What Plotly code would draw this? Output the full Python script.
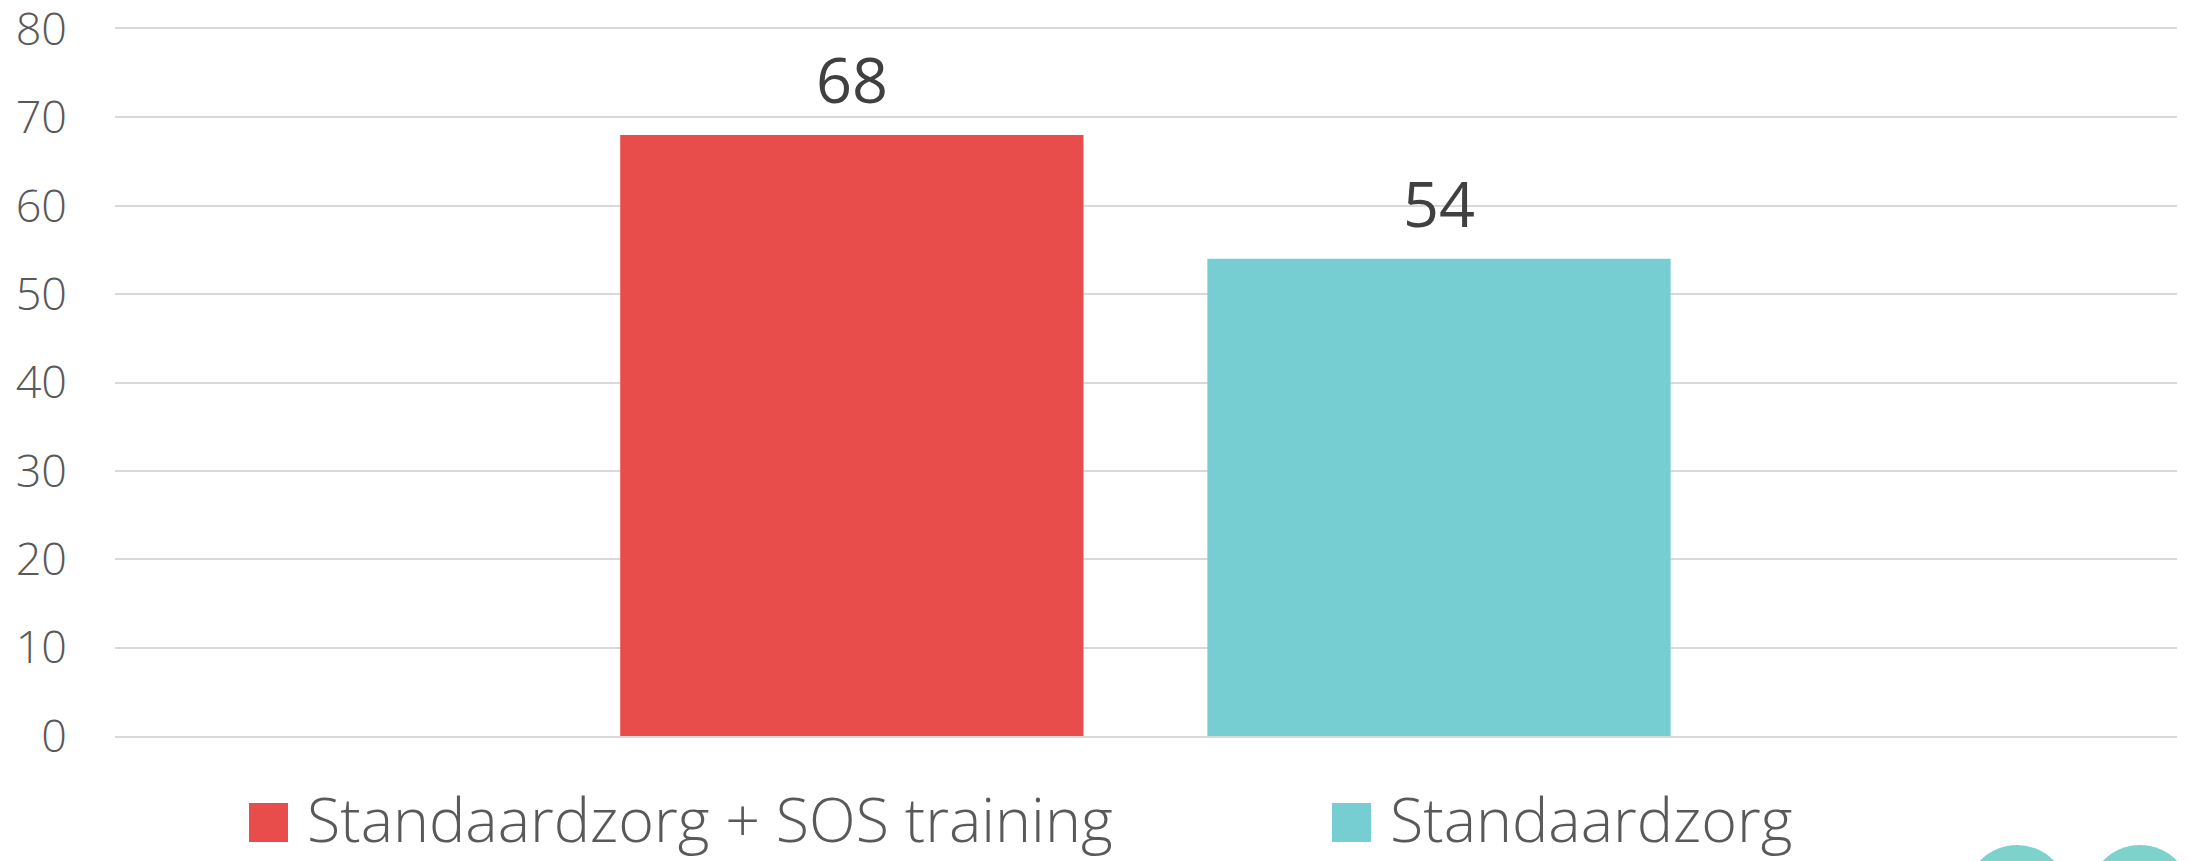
import plotly.graph_objects as go

# ---- data ----
series_names = ["Standaardzorg + SOS training", "Standaardzorg"]
values = [68, 54]
y_tick_values = [0, 10, 20, 30, 40, 50, 60, 70, 80]

# ---- style ----
colors = ["#E84C4B", "#76CDD2"]
W, H = 2188, 861
L, R, T, B = 115, 11, 29, 125
PW, PH = W - L - R, H - T - B


def pxx(x):
    return (x - L) / PW


def pyy(y):
    return (H - B - y) / PH


FONT = "'Open Sans', Lato, sans-serif"

fig = go.Figure()
for name, val, col in zip(series_names, values, colors):
    fig.add_trace(go.Bar(x=[name], y=[val], name=name, marker_color=col,
                         marker_line_width=0, showlegend=False, hoverinfo="skip"))

annotations = []
for name, val in zip(series_names, values):
    annotations.append(dict(x=name, y=val, xref="x", yref="y", text=str(val),
                            showarrow=False, yanchor="bottom", yshift=12,
                            font=dict(family=FONT, size=63, color="#404040")))

# custom legend (large squares)
legend_sq_x = [249, 1332]
shapes = []
for name, col, sx in zip(series_names, colors, legend_sq_x):
    shapes.append(dict(type="rect", xref="paper", yref="paper",
                       x0=pxx(sx), x1=pxx(sx + 39), y0=pyy(842), y1=pyy(803),
                       fillcolor=col, line_width=0))
    annotations.append(dict(x=pxx(sx + 56), y=pyy(818), xref="paper", yref="paper",
                            text=name, showarrow=False, xanchor="left", yanchor="middle",
                            font=dict(family=FONT, size=61, color="#595959", weight=300)))

# partial logo in bottom-right corner
for cx in [2017, 2140]:
    shapes.append(dict(type="circle", xref="paper", yref="paper",
                       x0=pxx(cx - 52), x1=pxx(cx + 52), y0=pyy(950), y1=pyy(845),
                       fillcolor="#7DD3CC", line_width=0, layer="above"))

fig.update_layout(
    width=W, height=H,
    margin=dict(l=L, r=R, t=T, b=B, autoexpand=False),
    paper_bgcolor="white", plot_bgcolor="white",
    barmode="overlay", bargap=0.211,
    font=dict(family=FONT),
    xaxis=dict(type="category", categoryarray=series_names, categoryorder="array",
               range=[-1.255, 2.257], showticklabels=False, showgrid=False,
               zeroline=False, showline=True, mirror=True, linecolor="#D9D9D9",
               linewidth=2, ticks="", automargin=False),
    yaxis=dict(range=[0, 80], tickvals=y_tick_values, showgrid=True,
               gridcolor="#D9D9D9", gridwidth=2, zeroline=False, showline=False,
               ticks="", ticklabelstandoff=47, automargin=False,
               ticklabeloverflow="allow",
               tickfont=dict(family=FONT, size=45, color="#595959", weight=300)),
    shapes=shapes,
    annotations=annotations,
)

fig.write_html("out.html", config={"displayModeBar": False},
               post_script="document.body.style.margin='0';document.body.style.overflow='hidden';")
